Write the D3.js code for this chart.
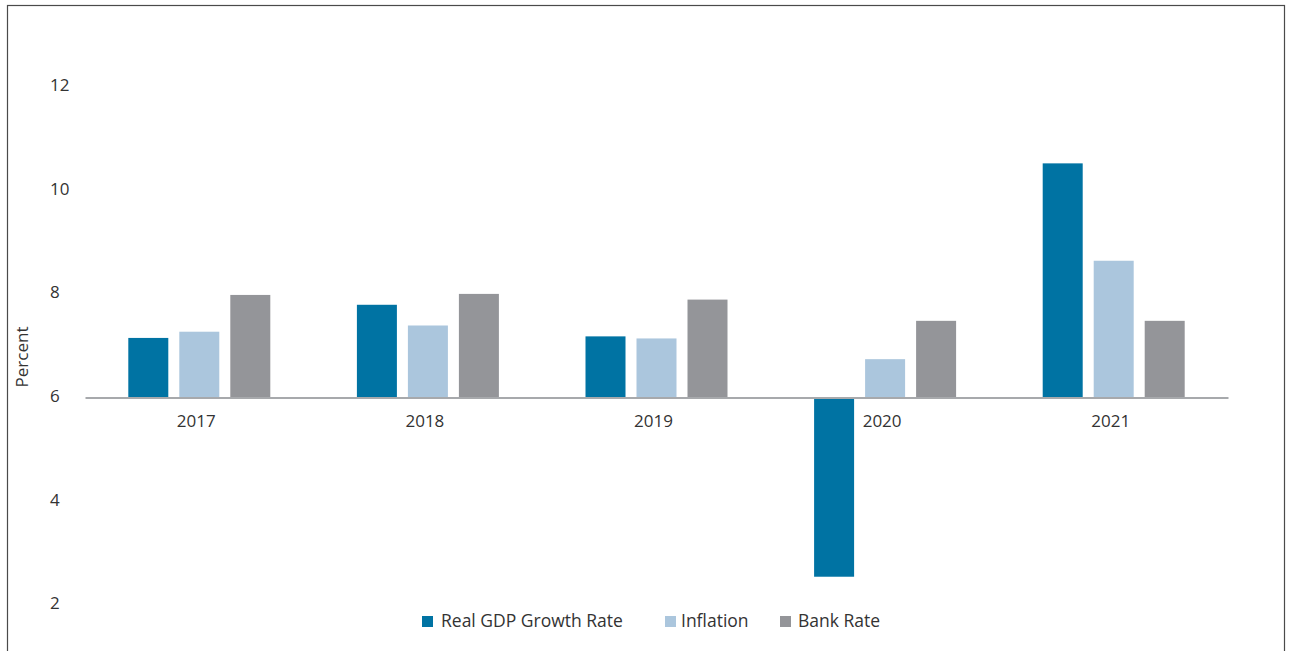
<!DOCTYPE html>
<html>
<head>
<meta charset="utf-8">
<script src="https://cdn.jsdelivr.net/npm/d3@7"></script>
<style>
  html, body { margin: 0; padding: 0; background: #fff; }
  svg text { font-family: "Open Sans", sans-serif; fill: #333; }
</style>
</head>
<body>
<svg id="chart" width="1292" height="651"></svg>
<script>
// Macro indicators by year (percent)
const years = ["2017", "2018", "2019", "2020", "2021"];
const seriesNames = ["Real GDP Growth Rate", "Inflation", "Bank Rate"];
const gdpGrowth = [7.15, 7.79, 7.18, 2.54, 10.52];
const inflation = [7.27, 7.39, 7.14, 6.74, 8.64];
const bankRate = [7.98, 8.0, 7.89, 7.48, 7.48];
const yTicks = [2, 4, 6, 8, 10, 12];
const baseline = 6;

const seriesValues = [gdpGrowth, inflation, bankRate];
const colors = ["#0073a3", "#abc6dd", "#949599"];
const FONT = "'Open Sans', sans-serif";

const svg = d3.select("#chart");

// Outer frame
svg.append("rect")
  .attr("x", 7.5).attr("y", 5.5)
  .attr("width", 1277).attr("height", 700)
  .attr("fill", "none").attr("stroke", "#4a4a4a").attr("stroke-width", 1.2);

const x0 = d3.scaleBand().domain(years).range([85, 1228]).paddingInner(0).paddingOuter(0);
const groupWidth = 142;
const x1 = d3.scaleBand().domain(seriesNames)
  .range([-groupWidth / 2, groupWidth / 2]).paddingInner(11 / 51).paddingOuter(0);
const y = d3.scaleLinear().domain([2, 12]).range([604.7, 86.7]);

// Y axis labels (no line, no ticks)
const yAxis = svg.append("g")
  .attr("transform", "translate(50,0)")
  .call(d3.axisLeft(y).tickValues(yTicks).tickSize(0).tickFormat(d3.format("d")));
yAxis.select(".domain").remove();
yAxis.selectAll("text")
  .attr("text-anchor", "start").attr("x", 0).attr("dy", "0.35em")
  .attr("transform", "translate(0,-2)")
  .style("font-size", "17px").style("font-family", FONT).attr("fill", "#333");

// Axis title
svg.append("text")
  .attr("transform", "translate(28,357) rotate(-90)")
  .attr("text-anchor", "middle")
  .style("font-size", "17px")
  .text("Percent");

// Bars, growing from the 6% baseline
const groups = svg.append("g").selectAll("g")
  .data(years)
  .join("g")
  .attr("transform", d => `translate(${x0(d) + x0.bandwidth() / 2},0)`);

groups.selectAll("rect")
  .data((d, i) => seriesNames.map((s, k) => ({ series: s, k, value: seriesValues[k][i] })))
  .join("rect")
  .attr("x", d => x1(d.series))
  .attr("width", x1.bandwidth())
  .attr("y", d => y(Math.max(d.value, baseline)))
  .attr("height", d => Math.abs(y(d.value) - y(baseline)))
  .attr("fill", d => colors[d.k]);

// Category axis along the baseline
const xAxis = svg.append("g")
  .attr("transform", `translate(0,${y(baseline)})`)
  .call(d3.axisBottom(x0).tickSize(0).tickPadding(17));
xAxis.select(".domain").attr("stroke", "#a7a9ac").attr("stroke-width", 2.2);
xAxis.selectAll("text")
  .attr("dx", "-3")
  .style("font-size", "17px").style("font-family", FONT).attr("fill", "#333");

// Legend
const legendX = [422, 665, 780];
const legend = svg.append("g").selectAll("g")
  .data(seriesNames)
  .join("g")
  .attr("transform", (d, i) => `translate(${legendX[i]},616)`);
legend.append("rect")
  .attr("width", 11).attr("height", 11)
  .attr("fill", (d, i) => colors[i]);
legend.append("text")
  .attr("x", (d, i) => i === 0 ? 19 : (i === 1 ? 16 : 18))
  .attr("y", 11)
  .style("font-size", "17.5px")
  .text(d => d);
</script>
</body>
</html>
